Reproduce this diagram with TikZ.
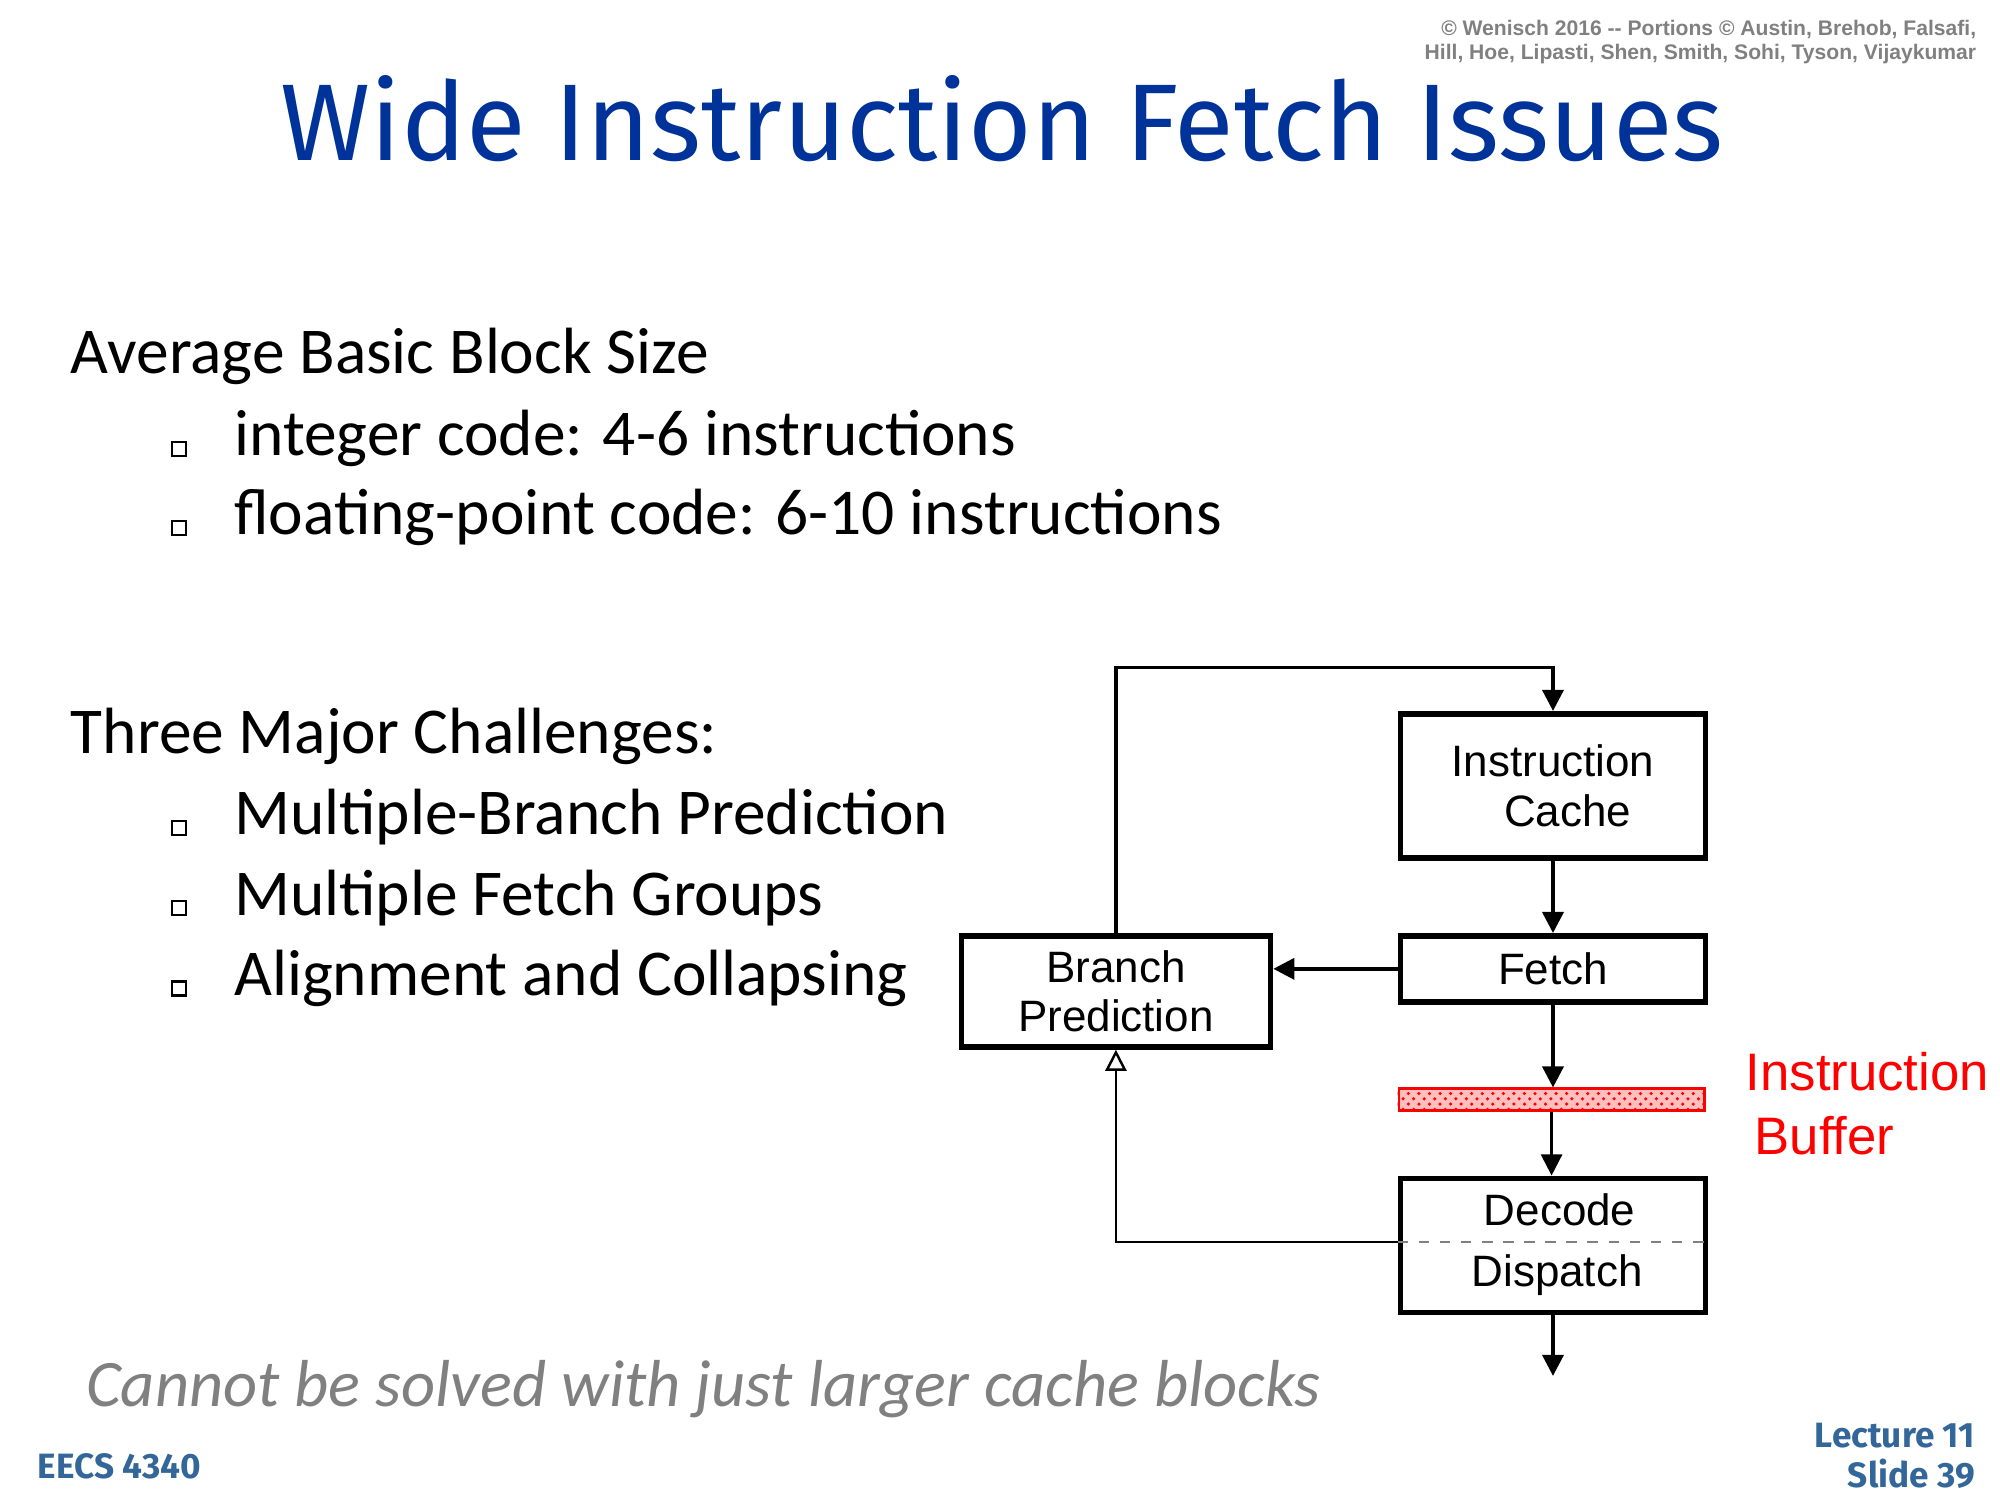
\documentclass[tikz,border=0pt]{standalone}
\usepackage{fontspec}
\setmainfont{Carlito}
\newfontfamily\arialfont{Liberation Sans}
\newfontfamily\titlefont{Fira Sans}
\usetikzlibrary{arrows.meta, positioning, patterns}
\definecolor{titleblue}{RGB}{0,51,153}
\definecolor{footblue}{RGB}{51,102,153}
\begin{document}
\begin{tikzpicture}[x=0.012763cm, y=-0.012763cm,
                box/.style={draw, line width=1.6pt, anchor=north west, align=center, font=\arialfont\fontsize{12.5}{14}\selectfont, inner sep=0pt},
                arrow/.style={-{Triangle[length=6pt, width=6pt]}, line width=1pt},
                body/.style={anchor=base west, inner sep=0pt, font=\fontsize{18.6}{20}\selectfont},
                bul/.style={draw, line width=0.6pt, minimum size=4pt, inner sep=0pt, anchor=base, yshift=2pt}]

                \useasboundingbox (0,0) rectangle (1567,1175);

                % Header
                \node[anchor=north east, align=right, text=gray, font=\arialfont\bfseries\fontsize{6}{7}\selectfont] (copy) at (1558,6)
                    {© Wenisch 2016 -- Portions © Austin, Brehob, Falsafi,\\Hill, Hoe, Lipasti, Shen, Smith, Sohi, Tyson, Vijaykumar};
                \node[text=titleblue, font=\titlefont\fontsize{31}{36}\selectfont] (title) at (785,93) {Wide Instruction Fetch Issues};

                % Text
                \node[body] (avg) at (55,293) {Average Basic Block Size};
                \node[body] (i1) at (183,357) {integer code: 4-6 instructions};
                \node[body] (i2) at (183,419) {floating-point code: 6-10 instructions};
                \node[body] (three) at (55,590) {Three Major Challenges:};
                \node[body] (c1) at (183,654) {Multiple-Branch Prediction};
                \node[body] (c2) at (183,717) {Multiple Fetch Groups};
                \node[body] (c3) at (183,780) {Alignment and Collapsing};
                \foreach \yy/\nm in {357/b1, 419/b2, 654/b3, 717/b4, 780/b5}
                    \node[bul] (\nm) at (140,\yy) {};
                \node[body, text=gray, font=\itshape\fontsize{18.9}{20}\selectfont] (note) at (67,1102) {Cannot be solved with just larger cache blocks};

                % Footer
                \node[anchor=base west, text=footblue, font=\titlefont\bfseries\fontsize{10}{12}\selectfont] (eecs) at (20,1158) {EECS 4340};
                \node[anchor=north east, align=right, text=footblue, font=\titlefont\bfseries\fontsize{10}{11.5}\selectfont] (slide) at (1557,1105) {Lecture 11\\Slide 39};

                % Blocks
                \node[box, text width=3.05cm, minimum height=1.44cm] (icache) at (1095,557) {Instruction\\\ \ Cache};
                \node[box, text width=3.05cm, minimum height=0.66cm] (fetch) at (1095,731) {Fetch};
                \node[box, text width=3.09cm, minimum height=1.11cm] (bp) at (751,731) {Branch\\Prediction};
                \node[draw=red, fill=red!25, line width=0.8pt, anchor=north west, minimum width=3.05cm, minimum height=0.22cm, inner sep=0pt] (buf) at (1095,852) {};
                \fill[pattern=crosshatch dots, pattern color=red] (buf.south west) rectangle (buf.north east);
                \node[box, text width=3.05cm, minimum height=1.34cm] (dec) at (1095,921) {};
                \node[font=\arialfont\fontsize{12.5}{14}\selectfont] (dectxt) at (1222,948) {Decode};
                \node[font=\arialfont\fontsize{12.5}{14}\selectfont] (distxt) at (1220,999) {Dispatch};
                \node[anchor=north west, align=left, text=red, font=\arialfont\fontsize{15}{18}\selectfont] (buflbl) at (1358,815) {Instruction\\\,Buffer};
                \coordinate (split) at (1095,973);
                \coordinate (out) at (1213,1078);
                \coordinate (top) at (873,523);

                % Connectors
                \draw[gray, dashed, line width=0.5pt] (split) -- (1337,973);
                \draw[arrow] (bp.north) |- (top) -| (icache.north);
                \draw[arrow] (icache.south) -- (icache.south |- fetch.north);
                \draw[arrow] (fetch.west) -- (fetch.west -| bp.east);
                \draw[arrow] (fetch.south) -- (fetch.south |- buf.north);
                \draw[arrow, line width=0.7pt] (buf.south) -- (buf.south |- dec.north);
                \draw[line width=0.7pt, -{Triangle[open, length=6pt, width=6pt]}] (split) -| (bp.south);
                \draw[arrow] (dec.south) -- (dec.south |- out);
            \end{tikzpicture}
\end{document}
